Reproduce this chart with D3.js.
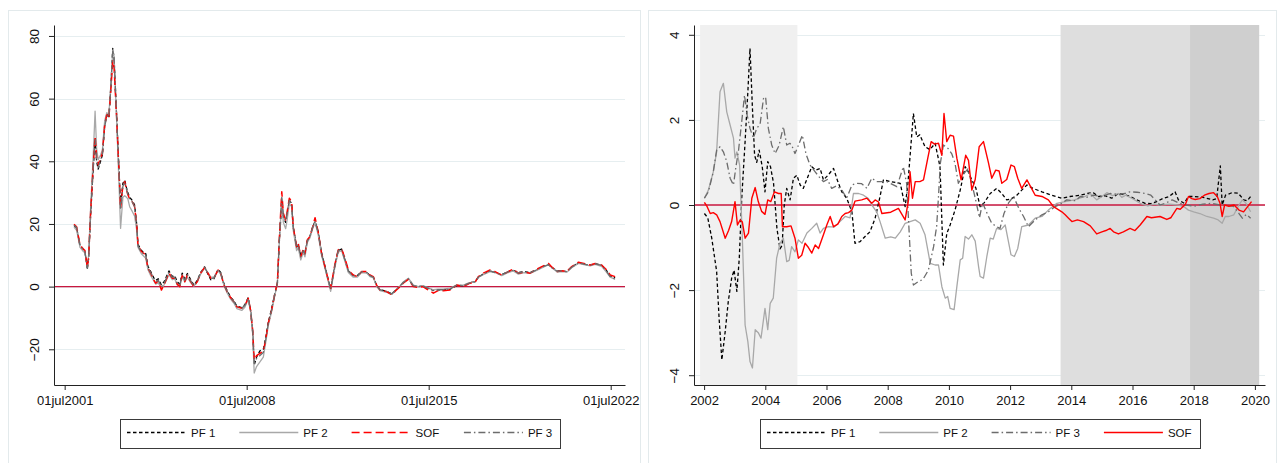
<!DOCTYPE html>
<html>
<head>
<meta charset="utf-8">
<script src="https://cdn.jsdelivr.net/npm/d3@7"></script>
<style>
  html, body { margin: 0; padding: 0; background: #fff; }
  svg { display: block; font-family: "Liberation Sans", Arial, Helvetica, sans-serif; }
</style>
</head>
<body>
<svg id="chart" width="1280" height="463"></svg>
<script>
// ---------- Left panel: monthly series (decimal years) ----------
const leftT = [2001.86,2001.96,2002.09,2002.22,2002.28,2002.35,2002.37,2002.42,2002.50,2002.60,
  2002.67,2002.73,2002.79,2002.88,2002.95,2003.04,2003.12,2003.20,2003.27,2003.35,
  2003.40,2003.50,2003.59,2003.65,2003.74,2003.81,2003.88,2003.93,2004.00,2004.10,
  2004.19,2004.27,2004.32,2004.45,2004.62,2004.70,2004.81,2004.93,2005.00,2005.10,
  2005.22,2005.32,2005.51,2005.64,2005.73,2005.83,2005.93,2006.02,2006.12,2006.22,
  2006.35,2006.47,2006.60,2006.73,2006.88,2007.01,2007.12,2007.24,2007.40,2007.50,
  2007.63,2007.75,2007.88,2008.01,2008.12,2008.31,2008.43,2008.56,2008.65,2008.73,
  2008.79,2008.88,2009.01,2009.14,2009.23,2009.33,2009.46,2009.59,2009.68,2009.76,
  2009.85,2009.91,2010.00,2010.06,2010.14,2010.23,2010.29,2010.42,2010.48,2010.58,
  2010.68,2010.74,2010.83,2010.93,2011.04,2011.13,2011.25,2011.38,2011.51,2011.64,
  2011.73,2011.90,2012.02,2012.15,2012.28,2012.41,2012.60,2012.75,2012.92,2013.12,
  2013.24,2013.37,2013.50,2013.63,2013.88,2014.08,2014.24,2014.40,2014.52,2014.72,
  2014.91,2015.09,2015.28,2015.47,2015.68,2015.86,2016.06,2016.32,2016.58,2016.83,
  2017.09,2017.28,2017.41,2017.60,2017.86,2018.05,2018.31,2018.56,2018.75,2018.95,
  2019.17,2019.40,2019.65,2019.85,2020.11,2020.24,2020.45,2020.63,2020.81,2021.00,
  2021.26,2021.47,2021.71,2021.90,2022.15,2022.35,2022.48,2022.67];

const leftSOF = [19.9,19.1,13.3,12.0,11.5,7.5,6.1,9.2,23.9,38.8,
  48.0,41.0,38.8,41.0,42.5,51.6,54.8,53.7,62.2,72.0,
  70.0,53.8,36.7,25.0,32.4,33.5,31.0,29.3,28.0,27.1,
  25.5,19.7,13.3,11.2,10.1,5.9,4.3,2.1,1.1,1.8,
  -1.1,0.5,4.3,2.7,2.7,0.8,0.0,3.7,1.6,3.7,
  1.6,0.0,1.6,4.3,6.1,4.3,2.7,2.7,5.3,4.3,
  0.5,-1.6,-3.5,-4.8,-6.4,-6.9,-6.0,-3.7,-7.5,-13.8,
  -23.4,-22.0,-21.3,-20.7,-17.0,-11.7,-7.4,-2.1,1.1,16.0,
  30.3,23.4,21.3,24.0,28.2,27.1,19.1,12.8,14.0,9.6,
  12.0,10.5,14.9,16.0,19.1,22.0,17.5,10.6,6.4,2.1,
  -0.5,7.4,11.7,12.2,9.0,5.3,3.7,3.2,4.8,4.8,
  3.7,3.2,0.5,-1.1,-1.6,-2.6,-1.2,0.0,1.1,2.3,
  0.0,-0.3,0.0,-1.0,-2.1,-1.3,-1.3,-1.1,0.5,0.0,
  1.1,1.3,3.2,4.3,5.3,4.8,3.7,4.8,5.6,4.3,
  4.6,4.3,5.5,6.4,7.4,6.2,4.8,5.1,4.8,6.4,
  7.8,7.4,6.9,7.4,6.9,5.3,3.7,3.2];

const leftPF1 = [19.5,18.8,13.0,11.8,11.0,7.0,5.5,8.8,23.0,38.0,
  46.5,40.0,37.5,40.0,42.0,51.5,55.0,54.0,63.0,76.0,
  73.0,54.5,37.0,26.0,33.0,34.0,31.5,30.0,28.5,27.5,
  26.0,20.0,13.5,11.5,10.5,6.5,4.8,2.8,2.0,2.5,
  0.5,1.5,5.0,3.2,3.5,1.5,0.8,4.3,2.5,4.2,
  2.2,0.5,2.0,4.5,6.3,4.0,2.2,2.5,5.5,4.5,
  0.8,-1.3,-3.3,-4.6,-6.2,-6.7,-5.8,-3.5,-7.5,-14.5,
  -25.0,-22.5,-20.5,-20.0,-16.5,-11.5,-7.0,-2.0,1.0,15.0,
  27.0,22.0,20.5,23.5,27.5,26.5,19.0,12.5,13.5,10.0,
  11.5,10.5,14.5,16.0,19.0,20.8,17.5,10.8,6.5,2.0,
  -0.8,7.0,11.5,12.0,8.5,5.0,3.5,3.5,4.8,4.5,
  3.5,3.0,0.3,-1.0,-1.5,-2.3,-1.0,0.2,1.3,2.5,
  0.3,0.0,0.2,-0.5,-1.2,-1.0,-1.0,-0.8,0.3,0.3,
  1.3,1.5,3.0,4.0,5.0,4.5,3.8,4.8,5.2,4.5,
  4.8,4.5,5.3,6.2,7.0,6.0,5.0,5.0,4.8,6.2,
  7.6,7.2,6.8,7.3,6.8,5.0,3.3,2.8];

const leftPF2 = [19.0,18.0,12.5,11.2,10.8,7.2,6.3,9.8,25.5,42.0,
  56.0,44.0,40.5,42.0,43.5,53.0,55.5,55.0,63.5,75.5,
  73.5,53.0,33.0,18.6,28.5,29.0,28.5,28.0,25.5,24.0,
  22.5,18.0,12.5,10.5,9.0,5.5,3.5,1.8,0.8,1.2,
  -0.5,0.5,3.8,2.2,2.5,0.5,0.0,3.2,1.5,3.0,
  1.2,0.2,1.5,4.0,6.0,4.5,3.0,3.0,5.0,4.0,
  0.3,-2.0,-4.0,-5.3,-7.0,-7.6,-6.6,-4.0,-8.0,-15.0,
  -27.6,-25.5,-24.0,-22.5,-18.0,-12.5,-8.0,-2.5,0.8,15.0,
  28.0,20.5,18.5,21.5,26.5,25.5,18.0,11.5,12.5,8.5,
  11.0,9.5,14.0,15.5,18.5,20.5,16.5,10.0,5.8,1.5,
  -1.5,6.5,11.0,11.5,8.0,4.5,3.0,3.0,4.5,4.3,
  3.2,2.8,0.0,-1.3,-1.8,-2.5,-1.0,0.3,1.5,2.7,
  0.5,0.0,0.3,-0.3,-1.0,-0.8,-0.8,-0.5,0.5,0.5,
  1.3,1.5,3.0,3.8,4.8,4.5,3.5,4.5,5.0,4.0,
  4.5,4.2,5.2,6.0,7.0,6.0,4.6,4.8,4.6,6.0,
  7.4,7.0,6.6,7.1,6.5,4.5,3.0,2.3];

const leftPF3 = [19.6,18.9,13.1,11.9,11.2,7.3,5.9,9.0,23.5,38.5,
  47.0,40.5,38.0,40.5,42.0,51.0,54.5,54.0,62.5,75.5,
  73.0,54.0,36.5,24.5,32.0,33.5,31.0,29.5,28.0,27.0,
  25.5,19.5,13.0,11.0,10.0,6.0,4.5,2.5,1.5,2.0,
  0.0,1.0,4.5,3.0,3.0,1.0,0.5,4.0,2.0,3.8,
  1.8,0.3,1.8,4.5,6.2,4.2,2.5,2.8,5.3,4.3,
  0.5,-1.5,-3.5,-4.8,-6.4,-6.9,-6.0,-3.7,-7.5,-14.0,
  -24.5,-23.0,-22.0,-21.0,-17.0,-11.8,-7.4,-2.1,1.0,15.5,
  28.5,22.5,21.0,23.5,27.5,26.5,19.0,12.5,13.5,9.5,
  11.5,10.5,14.5,16.0,19.0,20.8,17.3,10.5,6.3,2.0,
  -1.0,7.0,11.5,12.0,8.5,5.0,3.5,3.3,4.8,4.5,
  3.5,3.0,0.3,-1.0,-1.5,-2.3,-1.0,0.2,1.3,2.5,
  0.3,0.0,0.2,-0.5,-1.3,-1.0,-1.0,-0.8,0.5,0.3,
  1.2,1.5,3.0,4.0,5.0,4.5,3.8,4.8,5.2,4.3,
  4.8,4.5,5.3,6.2,7.0,6.0,4.9,5.0,4.8,6.2,
  7.6,7.2,6.8,7.3,6.8,4.8,3.2,2.5];

const leftYTicks = [-20, 0, 20, 40, 60, 80];
const leftXTicks = [2001.5, 2008.5, 2015.5, 2022.5];
const leftXLabels = ["01jul2001", "01jul2008", "01jul2015", "01jul2022"];
const leftLegend = ["PF 1", "PF 2", "SOF", "PF 3"];

// ---------- Right panel: [year, value] pairs ----------
const rightPF1 = [[2002.01,-0.2],[2002.12,-0.3],[2002.25,-0.78],[2002.41,-1.56],[2002.49,-2.66],[2002.58,-3.64],
  [2002.69,-2.97],[2002.79,-2.27],[2002.9,-1.72],[2002.98,-1.53],[2003.07,-2.03],[2003.15,-1.25],[2003.23,0.16],
  [2003.34,1.49],[2003.43,2.66],[2003.5,3.68],[2003.58,2.27],[2003.65,1.17],[2003.72,1.0],[2003.8,1.29],
  [2003.9,0.9],[2003.99,0.31],[2004.08,1.02],[2004.17,0.9],[2004.27,0.51],[2004.38,-0.55],[2004.48,-1.03],
  [2004.55,-0.95],[2004.62,0],[2004.7,0.39],[2004.81,0.12],[2004.92,0.63],[2005.03,0.7],[2005.14,0.47],
  [2005.24,0.39],[2005.41,0.7],[2005.52,0.9],[2005.65,0.82],[2005.79,0.86],[2005.9,0.59],[2006.05,0.7],
  [2006.23,0.86],[2006.37,0.55],[2006.5,0.31],[2006.66,0.16],[2006.83,-0.16],[2006.93,-0.9],[2007.1,-0.86],
  [2007.26,-0.74],[2007.42,-0.63],[2007.59,-0.31],[2007.75,0.2],[2007.86,0.59],[2008.1,0.55],[2008.41,0.51],
  [2008.57,-0.04],[2008.66,0.5],[2008.84,2.15],[2008.95,1.6],[2009.05,1.65],[2009.22,1.37],[2009.38,1.3],
  [2009.55,1.45],[2009.71,0.9],[2009.82,-1.41],[2009.93,-0.67],[2010.04,-0.47],[2010.2,-0.12],[2010.37,0.35],
  [2010.53,0.9],[2010.62,0.8],[2010.75,0.59],[2010.88,0.4],[2011.02,-0.04],[2011.15,0.05],[2011.35,0.27],
  [2011.56,0.39],[2011.73,0.27],[2011.89,0.12],[2012.05,0.15],[2012.22,0.23],[2012.38,0.35],[2012.55,0.47],
  [2012.75,0.39],[2013.04,0.31],[2013.36,0.23],[2013.69,0.16],[2013.96,0.2],[2014.29,0.23],[2014.51,0.27],
  [2014.72,0.29],[2014.89,0.2],[2015.1,0.22],[2015.32,0.16],[2015.54,0.27],[2015.75,0.24],[2015.92,0.2],
  [2016.14,0.12],[2016.41,0.04],[2016.6,0.03],[2016.79,0.08],[2017.01,0.16],[2017.2,0.2],[2017.39,0.31],
  [2017.5,0.12],[2017.69,0.04],[2017.83,0.2],[2018.0,0.2],[2018.3,0.18],[2018.62,0.12],[2018.75,0.15],
  [2018.87,0.92],[2018.93,0],[2019.04,0.23],[2019.25,0.29],[2019.45,0.28],[2019.64,0.12],[2019.75,0.1],
  [2019.86,0.2]];

const rightPF2 = [[2002.01,0.16],[2002.14,0.35],[2002.3,0.78],[2002.41,1.25],[2002.52,2.66],[2002.63,2.86],
  [2002.74,2.19],[2002.85,1.88],[2002.96,1.57],[2003.01,1.1],[2003.07,1.25],[2003.16,0.94],[2003.25,-0.78],
  [2003.34,-2.82],[2003.43,-3.21],[2003.5,-3.68],[2003.58,-3.83],[2003.67,-2.93],[2003.77,-3.0],[2003.86,-3.13],
  [2003.99,-2.43],[2004.08,-2.93],[2004.16,-2.31],[2004.26,-2.19],[2004.37,-1.25],[2004.48,-0.9],[2004.59,-0.78],
  [2004.7,-1.33],[2004.78,-1.3],[2004.86,-0.98],[2004.97,-1.1],[2005.08,-0.82],[2005.2,-0.9],[2005.36,-0.66],
  [2005.52,-0.55],[2005.68,-0.43],[2005.79,-0.66],[2005.9,-0.55],[2006.06,-0.51],[2006.25,-0.52],[2006.44,-0.39],
  [2006.61,-0.27],[2006.77,-0.3],[2006.88,0.27],[2007.05,0.27],[2007.21,0.23],[2007.37,0.15],[2007.48,0],
  [2007.64,-0.16],[2007.75,-0.39],[2007.92,-0.78],[2008.1,-0.75],[2008.25,-0.78],[2008.41,-0.63],[2008.57,-0.43],
  [2008.73,-0.39],[2008.9,-0.35],[2009.06,-0.43],[2009.22,-0.7],[2009.39,-1.37],[2009.55,-1.41],[2009.66,-1.41],
  [2009.77,-1.92],[2009.88,-2.19],[2009.96,-2.15],[2010.04,-2.43],[2010.17,-2.46],[2010.26,-1.92],[2010.37,-1.29],
  [2010.45,-1.25],[2010.53,-0.74],[2010.64,-0.8],[2010.75,-0.7],[2010.86,-0.85],[2010.97,-1.45],[2011.02,-1.68],
  [2011.13,-1.72],[2011.24,-1.21],[2011.35,-0.78],[2011.45,-0.8],[2011.56,-0.55],[2011.7,-0.58],[2011.84,-0.47],
  [2011.93,-0.8],[2012.03,-1.17],[2012.14,-1.21],[2012.25,-1.02],[2012.38,-0.51],[2012.6,-0.47],[2012.82,-0.31],
  [2013.04,-0.27],[2013.25,-0.12],[2013.53,0.04],[2013.8,0.08],[2014.1,0.12],[2014.45,0.2],[2014.62,0.27],
  [2014.83,0.12],[2015.0,0.2],[2015.16,0.29],[2015.35,0.22],[2015.54,0.27],[2015.65,0.18],[2015.78,0.23],
  [2016.0,0.15],[2016.25,0.04],[2016.5,-0.02],[2016.7,0.02],[2016.9,0],[2017.2,0.02],[2017.5,0],
  [2017.7,-0.05],[2017.83,-0.12],[2018.0,-0.16],[2018.2,-0.2],[2018.43,-0.27],[2018.65,-0.31],[2018.8,-0.35],
  [2018.93,-0.43],[2019.03,-0.27],[2019.15,-0.27],[2019.31,-0.23],[2019.48,0],[2019.59,0.12],[2019.7,0.05],
  [2019.86,-0.16]];

const rightPF3 = [[2002.01,0.16],[2002.14,0.31],[2002.3,0.78],[2002.41,1.29],[2002.52,1.37],[2002.63,1.25],
  [2002.74,1.02],[2002.85,0.63],[2002.96,0.47],[2003.04,0.9],[2003.12,1.25],[2003.23,1.96],[2003.32,2.58],
  [2003.41,2.1],[2003.5,1.8],[2003.61,1.57],[2003.72,1.8],[2003.83,1.9],[2003.94,2.5],[2004.01,2.54],
  [2004.1,1.8],[2004.21,1.41],[2004.32,1.21],[2004.45,1.4],[2004.59,1.84],[2004.7,1.41],[2004.8,1.45],
  [2004.86,1.41],[2004.97,1.21],[2005.08,1.4],[2005.21,1.64],[2005.33,1.2],[2005.46,0.94],[2005.63,0.78],
  [2005.76,0.66],[2005.9,0.55],[2006.03,0.6],[2006.17,0.39],[2006.33,0.45],[2006.5,0.35],[2006.66,0.16],
  [2006.83,0.47],[2006.99,0.51],[2007.15,0.5],[2007.32,0.39],[2007.48,0.63],[2007.64,0.55],[2007.97,0.55],
  [2008.3,0.43],[2008.51,0.9],[2008.62,0.5],[2008.77,-1.6],[2008.84,-1.88],[2009.0,-1.8],[2009.15,-1.75],
  [2009.33,-1.53],[2009.5,-0.98],[2009.6,-0.5],[2009.66,0.2],[2009.72,0.98],[2009.82,1.41],[2009.97,1.33],
  [2010.09,1.21],[2010.2,0.98],[2010.31,0.51],[2010.45,0.7],[2010.62,0.85],[2010.75,0.5],[2010.88,0.1],
  [2011.0,-0.3],[2011.1,0.05],[2011.25,-0.2],[2011.4,-0.43],[2011.56,-0.51],[2011.67,-0.55],[2011.8,-0.2],
  [2011.95,0.05],[2012.11,0.2],[2012.3,-0.1],[2012.44,-0.27],[2012.6,-0.51],[2012.82,-0.35],[2013.04,-0.23],
  [2013.25,-0.16],[2013.47,-0.04],[2013.69,0.04],[2013.85,0.12],[2014.14,0.1],[2014.29,0.2],[2014.5,0.18],
  [2014.72,0.23],[2015.0,0.2],[2015.27,0.27],[2015.55,0.25],[2015.75,0.27],[2015.92,0.31],[2016.15,0.3],
  [2016.41,0.27],[2016.6,0.23],[2016.9,0],[2017.1,0.05],[2017.3,0.12],[2017.5,0.05],[2017.75,0],
  [2018.0,-0.03],[2018.3,0.02],[2018.6,0.04],[2018.85,0],[2019.01,0],[2019.3,-0.03],[2019.48,-0.2],
  [2019.59,-0.31],[2019.72,-0.22],[2019.86,-0.31]];

const rightSOF = [[2002.01,0.06],[2002.1,-0.04],[2002.2,-0.2],[2002.3,-0.18],[2002.41,-0.23],[2002.52,-0.39],
  [2002.69,-0.78],[2002.8,-0.6],[2002.9,-0.39],[2003.01,0.08],[2003.09,-0.47],[2003.18,-0.35],[2003.25,-0.4],
  [2003.34,-0.78],[2003.45,-0.66],[2003.56,0.16],[2003.67,0.41],[2003.77,0.08],[2003.88,-0.15],[2003.99,-0.22],
  [2004.08,0.12],[2004.18,0.08],[2004.3,0.31],[2004.43,0.27],[2004.52,0.27],[2004.56,-0.51],[2004.7,-0.51],
  [2004.84,-0.49],[2004.97,-0.78],[2005.08,-1.25],[2005.19,-1.18],[2005.3,-0.9],[2005.41,-1.0],[2005.52,-1.13],
  [2005.63,-0.94],[2005.74,-1.02],[2005.9,-0.7],[2006.01,-0.47],[2006.12,-0.27],[2006.23,-0.51],[2006.37,-0.45],
  [2006.5,-0.27],[2006.61,-0.2],[2006.72,-0.18],[2006.83,-0.12],[2006.93,0.09],[2007.15,0.12],[2007.32,0.16],
  [2007.48,0.04],[2007.59,0.12],[2007.7,0.07],[2007.81,-0.2],[2008.1,-0.17],[2008.35,-0.08],[2008.57,-0.35],
  [2008.68,0.12],[2008.73,0.78],[2008.81,0.16],[2008.9,0.55],[2009.05,0.55],[2009.17,0.59],[2009.31,1.1],
  [2009.42,1.49],[2009.53,1.43],[2009.66,1.45],[2009.77,1.17],[2009.84,2.15],[2009.93,1.49],[2010.04,1.64],
  [2010.15,1.62],[2010.26,1.1],[2010.4,0.59],[2010.47,0.86],[2010.55,1.17],[2010.64,1.05],[2010.75,0.35],
  [2010.86,0.6],[2010.99,1.37],[2011.13,1.49],[2011.29,1.0],[2011.4,0.63],[2011.53,0.82],[2011.64,0.8],
  [2011.73,0.51],[2011.89,0.6],[2012.03,0.94],[2012.14,0.9],[2012.25,0.63],[2012.38,0.39],[2012.55,0.59],
  [2012.7,0.39],[2012.82,0.23],[2013.04,0.2],[2013.25,0.12],[2013.42,-0.04],[2013.69,-0.16],[2013.8,-0.23],
  [2013.91,-0.31],[2014.02,-0.39],[2014.2,-0.35],[2014.4,-0.39],[2014.62,-0.49],[2014.83,-0.68],[2015.0,-0.63],
  [2015.13,-0.6],[2015.27,-0.55],[2015.38,-0.63],[2015.54,-0.68],[2015.7,-0.63],[2015.92,-0.55],[2016.08,-0.6],
  [2016.25,-0.47],[2016.47,-0.27],[2016.62,-0.3],[2016.9,-0.27],[2017.12,-0.34],[2017.25,-0.3],[2017.45,-0.08],
  [2017.56,-0.1],[2017.73,0.02],[2017.83,0.2],[2017.94,0.15],[2018.05,0.13],[2018.2,0.15],[2018.35,0.23],
  [2018.5,0.27],[2018.65,0.29],[2018.77,0.2],[2018.86,0.04],[2018.93,-0.27],[2019.01,0],[2019.15,-0.03],
  [2019.32,0],[2019.48,-0.12],[2019.63,-0.16],[2019.75,-0.05],[2019.89,0.08]];

// shaded periods: [start, end]
const rightShades = [[2001.87, 2005.05], [2013.65, 2017.88], [2017.88, 2020.14]];
const rightYTicks = [-4, -2, 0, 2, 4];
const rightXTicks = [2002, 2004, 2006, 2008, 2010, 2012, 2014, 2016, 2018, 2020];
const rightLegend = ["PF 1", "PF 2", "PF 3", "SOF"];

// ---------- drawing ----------
const svg = d3.select("#chart");
const FONT = 13;
const GRID = "#e6eef0";
const ZERO = "#c8173f";

const styles = {
  "PF 1": { stroke: "#000000", dash: "3.5,2.5", width: 1.3 },
  "PF 2": { stroke: "#a8a8a8", dash: null, width: 1.3 },
  "PF 3": { stroke: "#6c6c6c", dash: "7,3,1.5,3", width: 1.3 },
  "SOF-dash": { stroke: "#ff0000", dash: "8,4", width: 1.5 },
  "SOF": { stroke: "#ff0000", dash: null, width: 1.4 }
};

// panel frames
svg.append("rect").attr("x", 8.5).attr("y", 10.5).attr("width", 632).attr("height", 470)
  .attr("fill", "#fff").attr("stroke", "#e3eaec");
svg.append("rect").attr("x", 648.5).attr("y", 10.5).attr("width", 628).attr("height", 470)
  .attr("fill", "#fff").attr("stroke", "#e3eaec");

function drawPanel(cfg) {
  const g = svg.append("g");
  const x = d3.scaleLinear().domain(cfg.xDomain).range([cfg.left, cfg.right]);
  const y = d3.scaleLinear().domain(cfg.yDomain).range([385, 25]);

  const clipId = "clip-" + cfg.id;
  svg.append("clipPath").attr("id", clipId).append("rect")
    .attr("x", cfg.left).attr("y", 25).attr("width", cfg.right - cfg.left).attr("height", 360);

  // horizontal grid
  g.append("g").selectAll("line").data(cfg.yTicks).join("line")
    .attr("x1", cfg.left).attr("x2", cfg.right)
    .attr("y1", d => Math.round(y(d)) + 0.5).attr("y2", d => Math.round(y(d)) + 0.5)
    .attr("stroke", GRID).attr("stroke-width", 1);

  // shaded periods
  if (cfg.shades) {
    g.append("g").selectAll("rect").data(cfg.shades).join("rect")
      .attr("x", d => x(d[0])).attr("width", d => x(d[1]) - x(d[0]))
      .attr("y", 25).attr("height", 360)
      .attr("fill", (d, i) => cfg.shadeFills[i]);
  }

  // zero reference line
  g.append("line").attr("x1", cfg.left).attr("x2", cfg.right)
    .attr("y1", y(0)).attr("y2", y(0))
    .attr("stroke", ZERO).attr("stroke-width", 1.3);

  // series
  const line = d3.line().x(d => x(d[0])).y(d => y(d[1]));
  const lg = g.append("g").attr("clip-path", `url(#${clipId})`);
  cfg.series.forEach(s => {
    const st = styles[s.style];
    lg.append("path").datum(s.data).attr("d", line)
      .attr("fill", "none").attr("stroke", st.stroke).attr("stroke-width", st.width)
      .attr("stroke-dasharray", st.dash).attr("stroke-linejoin", "round");
  });

  // y axis
  const ya = g.append("g").attr("transform", `translate(${cfg.left},0)`)
    .call(d3.axisLeft(y).tickValues(cfg.yTicks).tickSize(5).tickSizeOuter(0));
  ya.select(".domain").attr("stroke", "#222");
  ya.selectAll(".tick line").attr("stroke", "#222");
  ya.selectAll(".tick text")
    .attr("transform", "rotate(-90)")
    .attr("x", 0).attr("y", -15.5).attr("dy", 0)
    .attr("text-anchor", "middle")
    .attr("font-size", 13.5).attr("fill", "#111")
    .style("font-family", "'Liberation Sans', Arial, sans-serif");

  // x axis
  const xa = g.append("g").attr("transform", "translate(0,385)")
    .call(d3.axisBottom(x).tickValues(cfg.xTicks).tickSize(5).tickSizeOuter(0)
      .tickFormat((d, i) => cfg.xLabels[i]));
  xa.select(".domain").attr("stroke", "#222");
  xa.selectAll(".tick line").attr("stroke", "#222");
  xa.selectAll(".tick text")
    .attr("y", 20).attr("dy", 0)
    .attr("font-size", FONT).attr("fill", "#111")
    .style("font-family", "'Liberation Sans', Arial, sans-serif");

  // legend
  const lx = cfg.legendX, ly = 419;
  const leg = g.append("g");
  leg.append("rect").attr("x", lx + 0.5).attr("y", ly + 0.5).attr("width", 440).attr("height", 29)
    .attr("fill", "#fff").attr("stroke", "#3a3a3a").attr("stroke-width", 1);
  cfg.legend.forEach((name, i) => {
    const st = styles[cfg.legendStyles[i]];
    const sx = lx + 7 + i * 112.3;
    leg.append("line").attr("x1", sx).attr("x2", sx + 59)
      .attr("y1", ly + 13.5).attr("y2", ly + 13.5)
      .attr("stroke", st.stroke).attr("stroke-width", st.width)
      .attr("stroke-dasharray", st.dash);
    leg.append("text").attr("x", sx + 64).attr("y", ly + 18)
      .attr("font-size", 11.5).attr("fill", "#111").text(name);
  });
}

const zipL = vals => leftT.map((t, i) => [t, vals[i]]);

drawPanel({
  id: "left",
  left: 54, right: 625,
  xDomain: [2001.09, 2023.05],
  yDomain: [-31.4, 83.5],
  yTicks: leftYTicks,
  xTicks: leftXTicks,
  xLabels: leftXLabels,
  series: [
    { data: zipL(leftPF1), style: "PF 1" },
    { data: zipL(leftPF2), style: "PF 2" },
    { data: zipL(leftSOF), style: "SOF-dash" },
    { data: zipL(leftPF3), style: "PF 3" }
  ],
  legend: leftLegend,
  legendStyles: ["PF 1", "PF 2", "SOF-dash", "PF 3"],
  legendX: 120
});

drawPanel({
  id: "right",
  left: 694, right: 1265,
  xDomain: [2001.67, 2020.33],
  yDomain: [-4.23, 4.23],
  yTicks: rightYTicks,
  xTicks: rightXTicks,
  xLabels: rightXTicks.map(String),
  shades: rightShades,
  shadeFills: ["#f0f0f0", "#dedede", "#cfcfcf"],
  series: [
    { data: rightPF1, style: "PF 1" },
    { data: rightPF2, style: "PF 2" },
    { data: rightPF3, style: "PF 3" },
    { data: rightSOF, style: "SOF" }
  ],
  legend: rightLegend,
  legendStyles: ["PF 1", "PF 2", "PF 3", "SOF"],
  legendX: 760
});
</script>
</body>
</html>
